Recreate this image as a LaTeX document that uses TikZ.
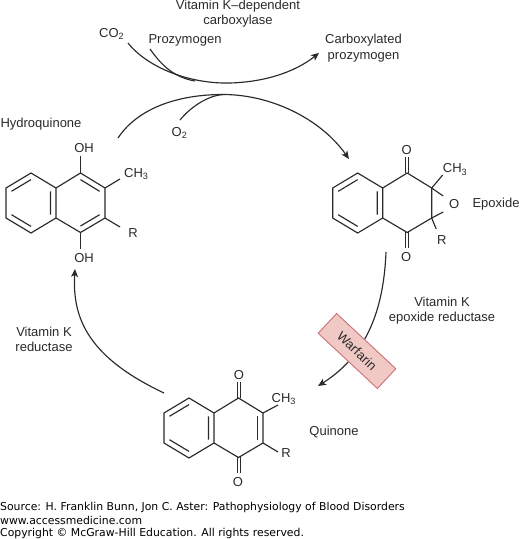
\documentclass[tikz,border=0pt]{standalone}
\usepackage{fontspec}
\setmainfont{Liberation Sans}
\newfontfamily\footfont{DejaVu Sans}
\usetikzlibrary{arrows.meta,calc}
\definecolor{ink}{HTML}{2A2A2A}
\definecolor{wfill}{HTML}{F0C9C5}
\definecolor{wline}{HTML}{CF6F78}
\tikzset{
  bond/.style={draw=ink,line width=1.15pt,line join=miter},
  flow/.style={draw=ink,line width=1.15pt},
  flowtip/.style={flow,-{Stealth[length=8pt,width=7pt,inset=2pt]}},
  lab/.style={text=ink,font=\fontsize{13}{15.3}\selectfont,inner sep=0pt,align=center},
  foot/.style={text=black,font=\footfont\fontsize{10.85}{12}\selectfont,inner sep=0pt,anchor=west},
  warf/.style={draw=wline,fill=wfill,line width=.9pt,minimum width=81pt,minimum height=27pt,inner sep=0pt,rotate=-43,text=ink,font=\fontsize{13}{15}\selectfont}
}
% naphthalene skeleton: origin = top vertex of the left ring
\newcommand{\naphskel}{%
  \coordinate (a1) at (0,0); \coordinate (a2) at (25,15); \coordinate (a3) at (25,45);
  \coordinate (a4) at (0,60); \coordinate (a5) at (-25,45); \coordinate (a6) at (-25,15);
  \coordinate (ac) at (0,30);
  \coordinate (b1) at (49.5,0); \coordinate (b2) at (74,15); \coordinate (b3) at (74,45); \coordinate (b4) at (49.5,59.5);
  \coordinate (bc) at (49.5,30);
  \draw[bond] (a2)--(a1)--(a6)--(a5)--(a4)--(a3)--cycle;
  \draw[bond] ($(ac)!.78!(a1)$)--($(ac)!.78!(a6)$)
              ($(ac)!.78!(a5)$)--($(ac)!.78!(a4)$)
              ($(ac)!.78!(a2)$)--($(ac)!.78!(a3)$);
}
\begin{document}
\begin{tikzpicture}[x=1pt,y=-1pt]
\useasboundingbox (0,0) rectangle (520,539);
\fill[white] (0,0) rectangle (520,539);

% Hydroquinone
\begin{scope}[shift={(31,173)}]
  \naphskel
  \draw[bond] (a2)--(b1)--(b2)--(b3)--(b4)--(a3);
  \draw[bond] ($(bc)!.78!(b1)$)--($(bc)!.78!(b2)$) ($(bc)!.78!(b3)$)--($(bc)!.78!(b4)$);
  \node[lab] (hqoh1) at (53,-25) {OH};
  \node[lab] (hqoh2) at (53,85) {OH};
  \node[lab,anchor=west] (hqme) at (93,1) {CH\textsubscript{3}};
  \node[lab] (hqr) at (102,60) {R};
  \draw[bond] (b1)--(49.5,-17);
  \draw[bond] (b4)--(49.5,76);
  \draw[bond] (b2)--(89,6);
  \draw[bond] (b3)--(89,54);
\end{scope}

% Epoxide
\begin{scope}[shift={(357.7,173)}]
  \naphskel
  \draw[bond] (a2)--(b1)--(b2)--(b3)--(b4)--(a3);
  \draw[bond] (48.2,0)--(48.2,-16) (51.2,0)--(51.2,-16);
  \draw[bond] (48.2,59)--(48.2,75) (51.2,59)--(51.2,75);
  \node[lab] (eo1) at (49,-23) {O};
  \node[lab] (eo2) at (48.5,84) {O};
  \node[lab,anchor=west] (eme) at (85,-3.5) {CH\textsubscript{3}};
  \node[lab] (eo3) at (96.5,31) {O};
  \node[lab] (er) at (84,67) {R};
  \draw[bond] (b2)--(85,2);
  \draw[bond] (b2)--(85.5,23);
  \draw[bond] (b3)--(85.5,39);
  \draw[bond] (b3)--(78.5,56);
\end{scope}

% Quinone
\begin{scope}[shift={(189,398)}]
  \naphskel
  \draw[bond] (a2)--(b1)--(b2)--(b3)--(b4)--(a3);
  \draw[bond] ($(bc)!.78!(b2)$)--($(bc)!.78!(b3)$);
  \draw[bond] (48.2,0)--(48.2,-16) (51.2,0)--(51.2,-16);
  \draw[bond] (48.2,59)--(48.2,75) (51.2,59)--(51.2,75);
  \node[lab] (qo1) at (50,-23) {O};
  \node[lab] (qo2) at (49,84) {O};
  \node[lab,anchor=west] (qme) at (82.5,1) {CH\textsubscript{3}};
  \node[lab] (qr) at (97,55) {R};
  \draw[bond] (b2)--(89,7);
  \draw[bond] (b3)--(89,54);
\end{scope}

% Labels
\node[lab] (enzyme) at (238,13.5) {Vitamin K–dependent\\carboxylase};
\node[lab,anchor=west] (co2) at (99,34) {CO\textsubscript{2}};
\node[lab] (proz) at (185,40) {Prozymogen};
\node[lab] (cproz) at (363.5,48) {Carboxylated\\prozymogen};
\node[lab] (hq) at (41,124.5) {Hydroquinone};
\node[lab] (o2) at (179.5,133) {O\textsubscript{2}};
\node[lab] (epox) at (496,204) {Epoxide};
\node[lab] (ver) at (442,310.5) {Vitamin K\\epoxide reductase};
\node[lab] (vkr) at (44,339.5) {Vitamin K\\reductase};
\node[lab] (quin) at (334,432.5) {Quinone};

% Free ends of the connectors
\coordinate (c1) at (128,43);
\coordinate (c2) at (150,49);
\coordinate (c3) at (319,53);
\coordinate (d1) at (118,138);
\coordinate (d2) at (180,120);
\coordinate (d3) at (349,159);
\coordinate (e1) at (386,252);
\coordinate (e2) at (318,386);
\coordinate (f1) at (164,393);
\coordinate (f2) at (75,269);
\coordinate (m0) at (230,83);
\coordinate (m1) at (195,81);
\coordinate (m2) at (223,94.5);

% Connectors
\draw[flowtip] (c1) .. controls (148,68) and (190,84) .. (m0) .. controls (265,82) and (295,72) .. (c3);
\draw[flow] (c2) .. controls (160,63) and (172,77) .. (m1);
\draw[flowtip] (d1) .. controls (138,108) and (178,94.5) .. (m2) .. controls (270,94.5) and (320,118) .. (d3);
\draw[flow] (d2) .. controls (188,110) and (205,96) .. (m2);
\draw[flowtip] (e1) .. controls (384,300) and (372,352) .. (e2);
\draw[flowtip] (f1) .. controls (90,358) and (72,320) .. (f2);

% Warfarin
\node[warf] (warfarin) at (357,351) {Warfarin};

% Footer
\node[foot] (s1) at (0,507.5) {Source: H. Franklin Bunn, Jon C. Aster: Pathophysiology of Blood Disorders};
\node[foot] (s2) at (0,520.5) {www.accessmedicine.com};
\node[foot] (s3) at (0,533.5) {Copyright © McGraw-Hill Education. All rights reserved.};
\end{tikzpicture}
\end{document}
